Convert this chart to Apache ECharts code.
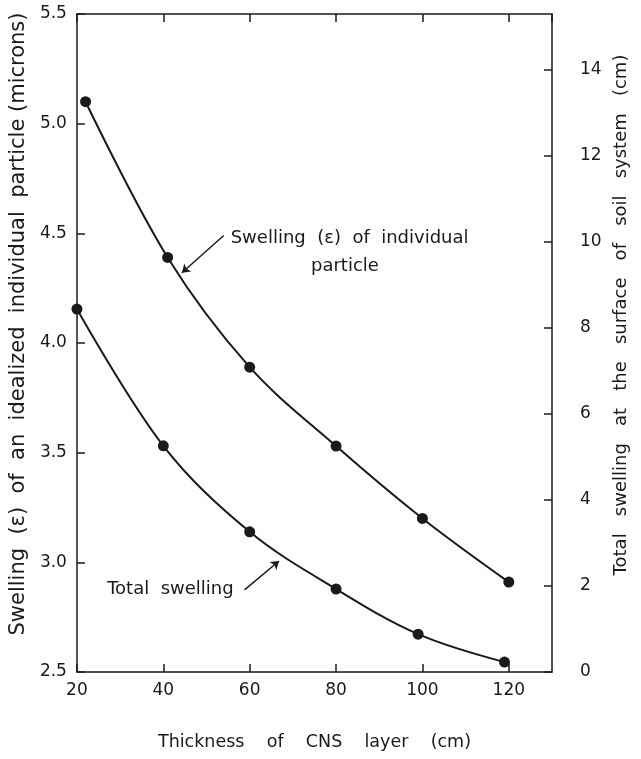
<!DOCTYPE html>
<html>
<head>
<meta charset="utf-8">
<script src="https://cdn.jsdelivr.net/npm/echarts@6/dist/echarts.min.js"></script>
<style>
  html, body { margin: 0; padding: 0; background: #fff; }
  #chart { width: 641px; height: 759px; }
</style>
</head>
<body>
<div id="chart"></div>
<script>
    // thickness of CNS layer (cm)
    let particleX = [22, 41, 60, 80, 100, 120];
    let particleSwelling = [5.10, 4.39, 3.89, 3.53, 3.20, 2.91];   // microns, left axis
    let totalX = [20, 40, 60, 80, 99, 119];
    let totalSwelling = [8.44, 5.26, 3.26, 1.93, 0.88, 0.23];     // cm, right axis

    let xTicks = [20, 40, 60, 80, 100, 120];
    let leftTicks = [2.5, 3.0, 3.5, 4.0, 4.5, 5.0, 5.5];
    let rightTicks = [0, 2, 4, 6, 8, 10, 12, 14];

    let font = 'DejaVu Sans';
    let ink = '#1a1a1a';

    function pairs(xs, ys) {
        return xs.map(function (x, i) { return [x, ys[i]]; });
    }

    let myChart = echarts.init(document.getElementById('chart'));
    let option = {
        animation: false,
        backgroundColor: '#fff',
        textStyle: { fontFamily: font, color: ink },
        grid: { left: 74, right: 89, top: 14, bottom: 87 },
        xAxis: [{
            type: 'value',
            position: 'bottom',
            min: xTicks[0],
            max: 130,
            interval: 20,
            name: 'Thickness    of    CNS    layer    (cm)',
            nameLocation: 'middle',
            nameGap: 61,
            nameTextStyle: { fontSize: 17.5, color: ink, fontFamily: font },
            axisLine: { lineStyle: { color: ink, width: 1.5 } },
            axisTick: { inside: true, length: 8, lineStyle: { color: ink, width: 1.5 } },
            axisLabel: { margin: 10, fontSize: 17, color: ink, fontFamily: font, showMaxLabel: false },
            splitLine: { show: false }
        }, {
            type: 'value',
            position: 'top',
            min: xTicks[0],
            max: 130,
            interval: 20,
            axisLine: { lineStyle: { color: ink, width: 1.5 } },
            axisTick: { inside: true, length: 8, lineStyle: { color: ink, width: 1.5 } },
            axisLabel: { show: false },
            splitLine: { show: false }
        }],
        yAxis: [{
            type: 'value',
            position: 'left',
            min: leftTicks[0],
            max: leftTicks[leftTicks.length - 1],
            interval: 0.5,
            name: 'Swelling  (ε)  of  an  idealized  individual  particle (microns)',
            nameLocation: 'middle',
            nameGap: 44,
            nameTextStyle: { fontSize: 21, color: ink, fontFamily: font, padding: [0, 0, 0, 38] },
            axisLine: { lineStyle: { color: ink, width: 1.5 } },
            axisTick: { inside: true, length: 8, lineStyle: { color: ink, width: 1.5 } },
            axisLabel: {
                margin: 10, fontSize: 17, color: ink, fontFamily: font,
                formatter: function (v) { return v.toFixed(1); }
            },
            splitLine: { show: false }
        }, {
            type: 'value',
            position: 'right',
            min: rightTicks[0],
            max: 15.3,
            interval: 2,
            name: 'Total   swelling   at   the   surface   of   soil   system   (cm)',
            nameLocation: 'middle',
            nameRotate: 90,
            nameGap: 58,
            nameTextStyle: { fontSize: 18, color: ink, fontFamily: font, padding: [0, 0, 0, 56] },
            axisLine: { lineStyle: { color: ink, width: 1.5 } },
            axisTick: { inside: true, length: 8, lineStyle: { color: ink, width: 1.5 } },
            axisLabel: { margin: 28, fontSize: 17, color: ink, fontFamily: font, showMaxLabel: false },
            splitLine: { show: false }
        }],
        series: [{
            name: 'Swelling (ε) of individual particle',
            type: 'line',
            yAxisIndex: 0,
            smooth: 0.35,
            symbol: 'circle',
            symbolSize: 11,
            itemStyle: { color: ink },
            lineStyle: { color: ink, width: 2 },
            data: pairs(particleX, particleSwelling),
            markLine: {
                silent: true,
                symbol: ['none', 'arrow'],
                symbolSize: 8,
                label: { show: false },
                lineStyle: { color: ink, width: 1.5, type: 'solid' },
                data: [[{ coord: [54.0, 4.49] }, { coord: [44.3, 4.32] }]]
            }
        }, {
            name: 'Total swelling',
            type: 'line',
            yAxisIndex: 1,
            smooth: 0.35,
            symbol: 'circle',
            symbolSize: 11,
            itemStyle: { color: ink },
            lineStyle: { color: ink, width: 2 },
            data: pairs(totalX, totalSwelling),
            markLine: {
                silent: true,
                symbol: ['none', 'arrow'],
                symbolSize: 8,
                label: { show: false },
                lineStyle: { color: ink, width: 1.5, type: 'solid' },
                data: [[{ coord: [58.8, 1.91] }, { coord: [66.8, 2.58] }]]
            }
        }]
    };
    myChart.setOption(option);

    // curve labels, anchored in data coordinates of the left axis
    let p1 = myChart.convertToPixel({ xAxisIndex: 0, yAxisIndex: 0 }, [55.6, 4.47]);
    let p2 = myChart.convertToPixel({ xAxisIndex: 0, yAxisIndex: 0 }, [74.2, 4.34]);
    let p3 = myChart.convertToPixel({ xAxisIndex: 0, yAxisIndex: 0 }, [27.0, 2.87]);
    let labelFont = '18px "DejaVu Sans"';
    myChart.setOption({
        graphic: [
            { type: 'text', left: p1[0], top: p1[1] - 11,
              style: { text: 'Swelling  (ε)  of  individual', font: labelFont, fill: ink } },
            { type: 'text', left: p2[0], top: p2[1] - 11,
              style: { text: 'particle', font: labelFont, fill: ink } },
            { type: 'text', left: p3[0], top: p3[1] - 11,
              style: { text: 'Total  swelling', font: labelFont, fill: ink } }
        ]
    });
</script>
</body>
</html>
